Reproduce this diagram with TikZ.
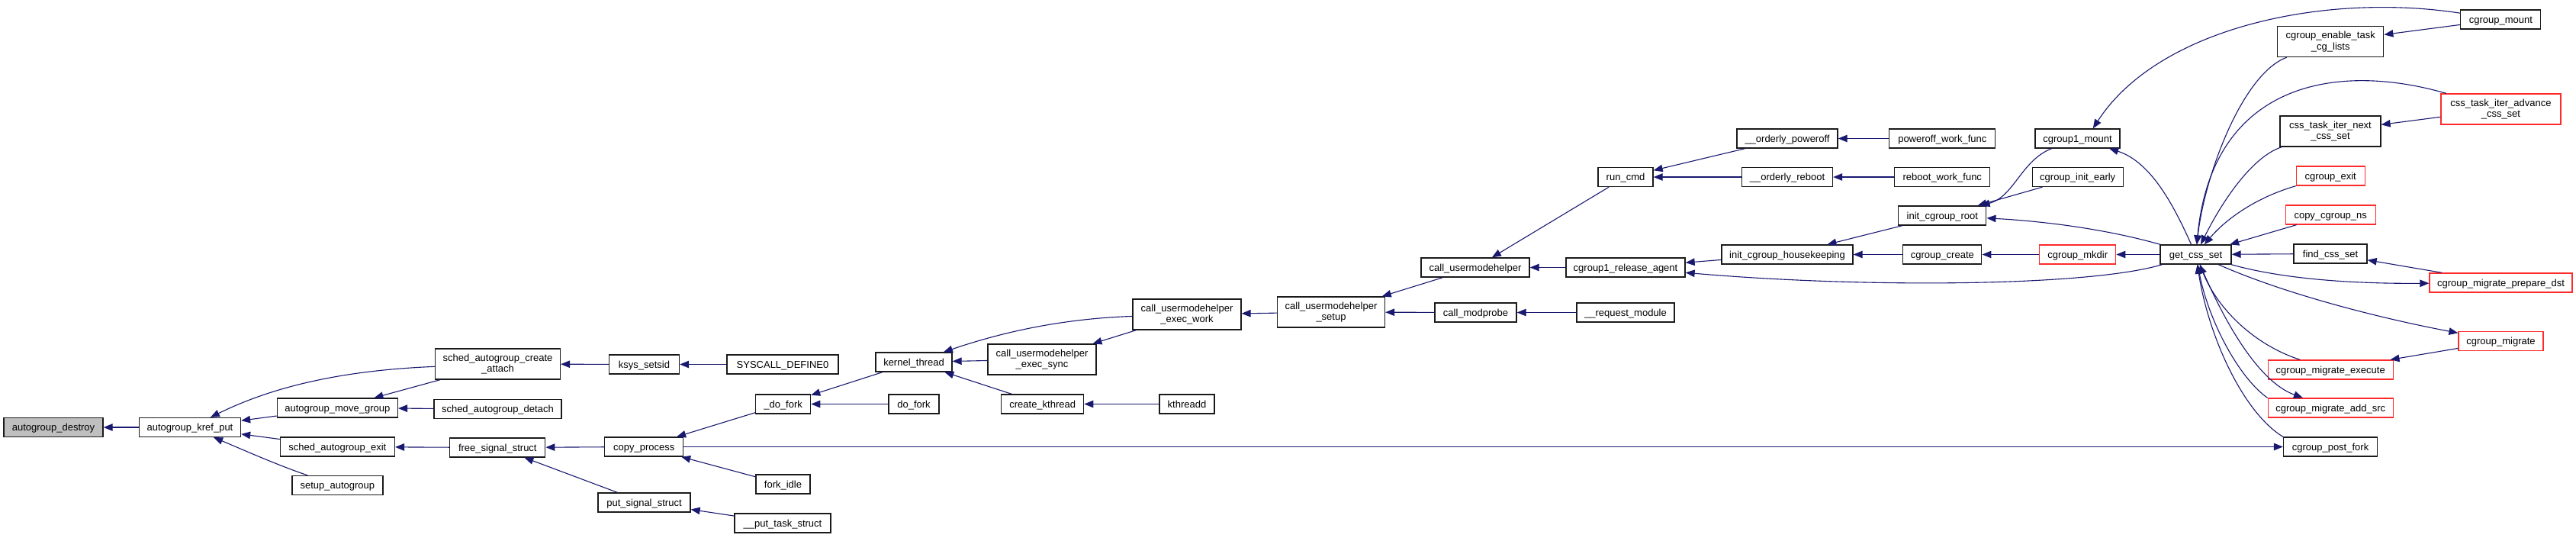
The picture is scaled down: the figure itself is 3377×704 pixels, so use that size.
\documentclass[tikz,border=0pt]{standalone}
\usepackage{fontspec}
\setmainfont{Liberation Sans}
\usepackage{tikz}
\usetikzlibrary{arrows.meta}
\definecolor{edgeblue}{HTML}{191970}
\definecolor{boxline}{HTML}{1A1A1A}
\definecolor{rootgray}{HTML}{BFBFBF}
\definecolor{truncred}{HTML}{FF2A2A}
\tikzset{
  fnbase/.style={
    draw=boxline,
    fill=white,
    line width=1.3pt,
    inner sep=0pt,
    font=\fontsize{13}{14.7}\selectfont
  },
  fnbox/.style={
    fnbase,
    minimum height=25pt,
    text height=9.3pt,
    text depth=0pt
  },
  fnboxtwo/.style={
    fnbase,
    minimum height=40pt,
    align=center
  },
  rootbox/.style={
    fnbox,
    fill=rootgray
  },
  truncbox/.style={
    fnbox,
    draw=truncred
  },
  truncboxtwo/.style={
    fnboxtwo,
    draw=truncred
  },
  calledge/.style={
    -{Triangle[length=12pt,width=9.5pt]},
    draw=edgeblue,
    line width=1.1pt
  }
}

\begin{document}
\begin{tikzpicture}[x=1pt,y=-1pt]
  \useasboundingbox (0,0) rectangle (3377,704);

  % autogroup side
  \node[rootbox, minimum width=130pt] (destroy) at (70,560) {autogroup\_destroy};
  \node[fnbox, minimum width=133pt] (krefput) at (249,560) {autogroup\_kref\_put};
  \node[fnbox, minimum width=158pt] (movegroup) at (442.4,534.5) {autogroup\_move\_group};
  \node[fnbox, minimum width=150pt] (schedexit) at (442.4,585.5) {sched\_autogroup\_exit};
  \node[fnbox, minimum width=119pt] (setupag) at (442.4,636) {setup\_autogroup};
  \node[fnboxtwo, minimum width=164pt] (attach) at (652.5,477) {sched\_autogroup\_create\\\_attach};
  \node[fnbox, minimum width=167pt] (detach) at (652.4,536) {sched\_autogroup\_detach};
  \node[fnbox, minimum width=125pt] (freesig) at (652.3,586.5) {free\_signal\_struct};
  \node[fnbox, minimum width=92pt] (setsid) at (844.5,477.5) {ksys\_setsid};
  \node[fnbox, minimum width=103pt] (copyproc) at (844.3,585.5) {copy\_process};
  \node[fnbox, minimum width=121pt] (putsig) at (844.5,658.5) {put\_signal\_struct};
  \node[fnbox, minimum width=146pt] (sysdef) at (1026,477.5) {SYSCALL\_DEFINE0};
  \node[fnbox, minimum width=72pt] (udofork) at (1026.6,529.5) {\_do\_fork};
  \node[fnbox, minimum width=71pt] (forkidle) at (1026.5,634.5) {fork\_idle};
  \node[fnbox, minimum width=126pt] (puttask) at (1026,685.5) {\_\_put\_task\_struct};

  % usermodehelper side
  \node[fnbox, minimum width=100pt] (kthread) at (1198,474.5) {kernel\_thread};
  \node[fnbox, minimum width=66pt] (dofork) at (1198,529.5) {do\_fork};
  \node[fnboxtwo, minimum width=142pt] (execsync) at (1366,471) {call\_usermodehelper\\\_exec\_sync};
  \node[fnbox, minimum width=108pt] (createkt) at (1366.7,529.5) {create\_kthread};
  \node[fnboxtwo, minimum width=142pt] (execwork) at (1556,412) {call\_usermodehelper\\\_exec\_work};
  \node[fnbox, minimum width=72pt] (kthreadd) at (1556,529.5) {kthreadd};
  \node[fnboxtwo, minimum width=141pt] (umhsetup) at (1745,409) {call\_usermodehelper\\\_setup};
  \node[fnbox, minimum width=142pt] (umh) at (1934,350.5) {call\_usermodehelper};
  \node[fnbox, minimum width=107pt] (modprobe) at (1934.5,409.5) {call\_modprobe};
  \node[fnbox, minimum width=72pt] (runcmd) at (2131,232) {run\_cmd};
  \node[fnbox, minimum width=156pt] (relagent) at (2131,350.5) {cgroup1\_release\_agent};
  \node[fnbox, minimum width=128pt] (reqmod) at (2131,409.5) {\_\_request\_module};

  % cgroup side
  \node[fnbox, minimum width=132pt] (poweroff) at (2343,181.5) {\_\_orderly\_poweroff};
  \node[fnbox, minimum width=119pt] (reboot) at (2343,232) {\_\_orderly\_reboot};
  \node[fnbox, minimum width=172pt] (housekeep) at (2343,333.5) {init\_cgroup\_housekeeping};
  \node[fnbox, minimum width=139pt] (poweroffwf) at (2546.3,181.5) {poweroff\_work\_func};
  \node[fnbox, minimum width=125pt] (rebootwf) at (2546.3,232) {reboot\_work\_func};
  \node[fnbox, minimum width=115pt] (initroot) at (2546.3,282.5) {init\_cgroup\_root};
  \node[fnbox, minimum width=103pt] (cgcreate) at (2546.3,333.5) {cgroup\_create};
  \node[fnbox, minimum width=111pt] (cgonemount) at (2723.5,181.5) {cgroup1\_mount};
  \node[fnbox, minimum width=119pt] (initearly) at (2723.7,232) {cgroup\_init\_early};
  \node[truncbox, minimum width=100pt] (mkdir) at (2723.7,333.5) {cgroup\_mkdir};
  \node[fnbox, minimum width=93pt] (getcss) at (2878.5,333.5) {get\_css\_set};
  \node[fnboxtwo, minimum width=139pt] (enabletask) at (3055.2,54.5) {cgroup\_enable\_task\\\_cg\_lists};
  \node[fnboxtwo, minimum width=132pt] (iternext) at (3055,172) {css\_task\_iter\_next\\\_css\_set};
  \node[truncbox, minimum width=90pt] (cgexit) at (3055.2,230.5) {cgroup\_exit};
  \node[truncbox, minimum width=118pt] (copyns) at (3055.2,281.5) {copy\_cgroup\_ns};
  \node[fnbox, minimum width=96pt] (findcss) at (3055,332.5) {find\_css\_set};
  \node[truncbox, minimum width=164pt] (migexec) at (3055.2,484.5) {cgroup\_migrate\_execute};
  \node[truncbox, minimum width=164pt] (addsrc) at (3055.2,534.5) {cgroup\_migrate\_add\_src};
  \node[fnbox, minimum width=123pt] (postfork) at (3055,585.5) {cgroup\_post\_fork};
  \node[fnbox, minimum width=105pt] (cgmount) at (3278.3,25.5) {cgroup\_mount};
  \node[truncboxtwo, minimum width=157pt] (iteradv) at (3278.4,143) {css\_task\_iter\_advance\\\_css\_set};
  \node[truncbox, minimum width=187pt] (prepdst) at (3278.5,370.5) {cgroup\_migrate\_prepare\_dst};
  \node[truncbox, minimum width=111pt] (migrate) at (3278.5,447) {cgroup\_migrate};

  \draw[calledge] (krefput) -- (destroy);
  \draw[calledge] (attach) .. controls (430,486) and (345,513) .. (krefput);
  \draw[calledge] (movegroup) -- (krefput);
  \draw[calledge] (schedexit) -- (krefput);
  \draw[calledge] (setupag) .. controls (365,610) and (320,590) .. (krefput);
  \draw[calledge] (attach) -- (movegroup);
  \draw[calledge] (detach) -- (movegroup);
  \draw[calledge] (freesig) -- (schedexit);
  \draw[calledge] (setsid) -- (attach);
  \draw[calledge] (sysdef) -- (setsid);
  \draw[calledge] (copyproc) -- (freesig);
  \draw[calledge] (putsig) -- (freesig);
  \draw[calledge] (puttask) -- (putsig);
  \draw[calledge] (udofork) -- (copyproc);
  \draw[calledge] (forkidle) -- (copyproc);
  \draw[calledge] (copyproc) -- (postfork);
  \draw[calledge] (kthread) -- (udofork);
  \draw[calledge] (dofork) -- (udofork);
  \draw[calledge] (execwork) .. controls (1380,418) and (1300,440) .. (kthread);
  \draw[calledge] (execsync) -- (kthread);
  \draw[calledge] (createkt) -- (kthread);
  \draw[calledge] (execwork) -- (execsync);
  \draw[calledge] (kthreadd) -- (createkt);
  \draw[calledge] (umhsetup) -- (execwork);
  \draw[calledge] (umh) -- (umhsetup);
  \draw[calledge] (modprobe) -- (umhsetup);
  \draw[calledge] (reqmod) -- (modprobe);
  \draw[calledge] (runcmd) -- (umh);
  \draw[calledge] (relagent) -- (umh);
  \draw[calledge] (poweroff) -- (runcmd);
  \draw[calledge] (reboot) -- (runcmd);
  \draw[calledge] (poweroffwf) -- (poweroff);
  \draw[calledge] (rebootwf) -- (reboot);
  \draw[calledge] (housekeep) -- (relagent);
  \draw[calledge] (getcss) .. controls (2740,375) and (2450,378) .. (relagent);
  \draw[calledge] (initroot) -- (housekeep);
  \draw[calledge] (cgcreate) -- (housekeep);
  \draw[calledge] (mkdir) -- (cgcreate);
  \draw[calledge] (getcss) -- (mkdir);
  \draw[calledge] (cgonemount) .. controls (2650,210) and (2640,258) .. (initroot);
  \draw[calledge] (initearly) -- (initroot);
  \draw[calledge] (getcss) .. controls (2760,300) and (2680,290) .. (initroot);
  \draw[calledge] (getcss) .. controls (2850,270) and (2820,212) .. (cgonemount);
  \draw[calledge] (cgmount) .. controls (3050,-10) and (2830,35) .. (cgonemount.33);
  \draw[calledge] (cgmount) -- (enabletask);
  \draw[calledge] (enabletask) .. controls (2940,96) and (2890,230) .. (getcss);
  \draw[calledge] (iteradv) .. controls (3060,80) and (2900,110) .. (getcss);
  \draw[calledge] (iteradv) -- (iternext);
  \draw[calledge] (iternext) .. controls (2950,206) and (2910,270) .. (getcss);
  \draw[calledge] (cgexit) .. controls (2960,258) and (2920,285) .. (getcss);
  \draw[calledge] (copyns) -- (getcss);
  \draw[calledge] (findcss) -- (getcss);
  \draw[calledge] (prepdst) -- (findcss);
  \draw[calledge] (getcss) .. controls (2990,365) and (3080,372) .. (prepdst);
  \draw[calledge] (getcss) .. controls (2990,383) and (3110,415) .. (migrate);
  \draw[calledge] (migrate) -- (migexec);
  \draw[calledge] (migexec) .. controls (2950,450) and (2905,400) .. (getcss);
  \draw[calledge] (getcss) .. controls (2915,420) and (2960,500) .. (addsrc);
  \draw[calledge] (addsrc.north west) .. controls (2935,495) and (2895,420) .. (getcss);
  \draw[calledge] (postfork.north west) .. controls (2940,540) and (2895,440) .. (getcss);
\end{tikzpicture}
\end{document}
